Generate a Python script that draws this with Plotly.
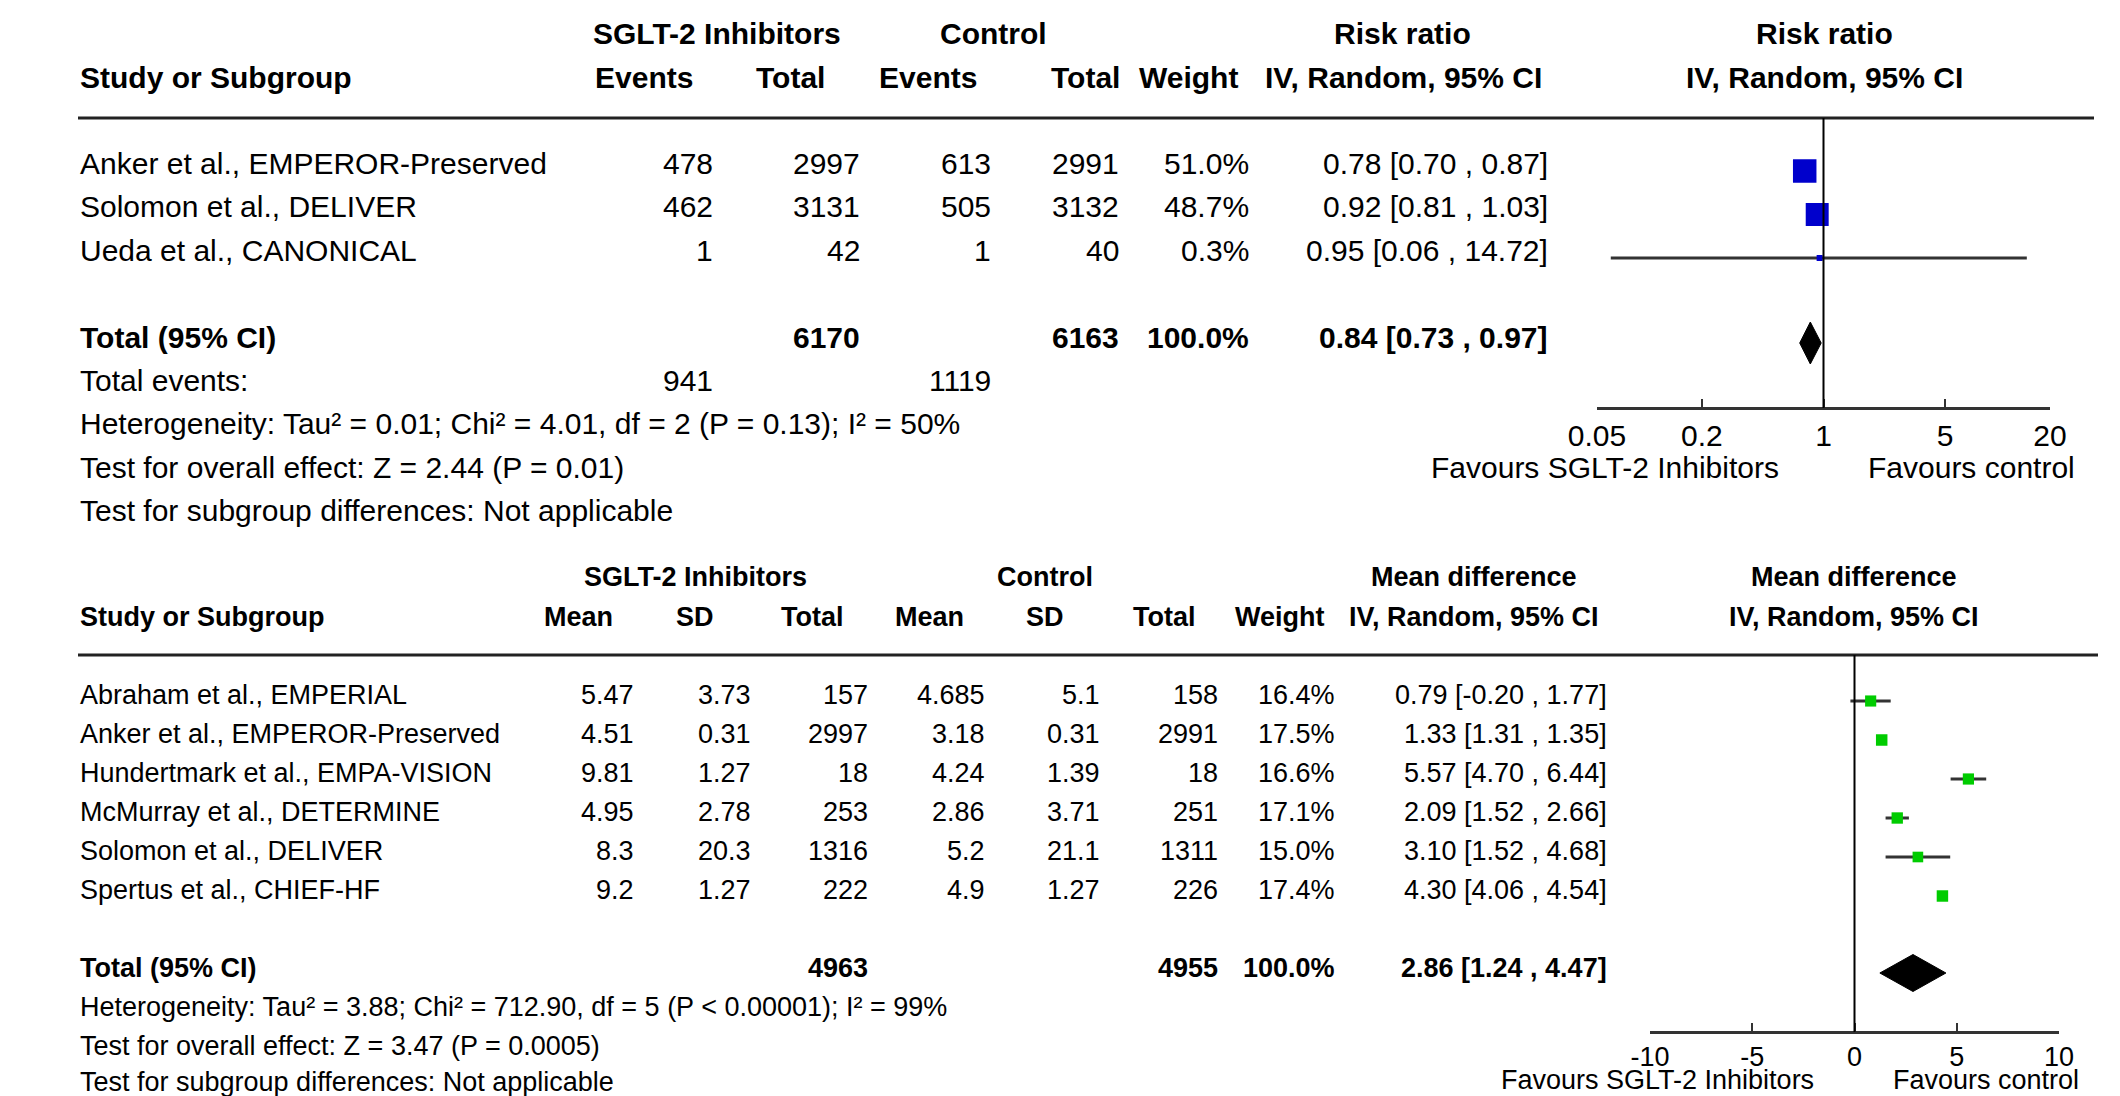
import math
import plotly.graph_objects as go

W, H = 2120, 1096
FONT = "Liberation Sans, Arial, Helvetica, sans-serif"

# ---------------- Top panel data (Risk ratio) ----------------
rr_studies = ["Anker et al., EMPEROR-Preserved", "Solomon et al., DELIVER", "Ueda et al., CANONICAL"]
rr_events_sglt = [478, 462, 1]
rr_total_sglt = [2997, 3131, 42]
rr_events_ctrl = [613, 505, 1]
rr_total_ctrl = [2991, 3132, 40]
rr_weight = [51.0, 48.7, 0.3]
rr_est = [0.78, 0.92, 0.95]
rr_lo = [0.70, 0.81, 0.06]
rr_hi = [0.87, 1.03, 14.72]
rr_pooled = [0.84, 0.73, 0.97]          # estimate, lower, upper
rr_sum_totals = [6170, 6163]
rr_sum_events = [941, 1119]
rr_ticks = [0.05, 0.2, 1, 5, 20]
rr_notes = [
    "Heterogeneity: Tau² = 0.01; Chi² = 4.01, df = 2 (P = 0.13); I² = 50%",
    "Test for overall effect: Z = 2.44 (P = 0.01)",
    "Test for subgroup differences: Not applicable",
]

# ---------------- Bottom panel data (Mean difference) ----------------
md_studies = ["Abraham et al., EMPERIAL", "Anker et al., EMPEROR-Preserved",
              "Hundertmark et al., EMPA-VISION", "McMurray et al., DETERMINE",
              "Solomon et al., DELIVER", "Spertus et al., CHIEF-HF"]
md_mean_sglt = [5.47, 4.51, 9.81, 4.95, 8.3, 9.2]
md_sd_sglt = [3.73, 0.31, 1.27, 2.78, 20.3, 1.27]
md_total_sglt = [157, 2997, 18, 253, 1316, 222]
md_mean_ctrl = [4.685, 3.18, 4.24, 2.86, 5.2, 4.9]
md_sd_ctrl = [5.1, 0.31, 1.39, 3.71, 21.1, 1.27]
md_total_ctrl = [158, 2991, 18, 251, 1311, 226]
md_weight = [16.4, 17.5, 16.6, 17.1, 15.0, 17.4]
md_est = [0.79, 1.33, 5.57, 2.09, 3.10, 4.30]
md_lo = [-0.20, 1.31, 4.70, 1.52, 1.52, 4.06]
md_hi = [1.77, 1.35, 6.44, 2.66, 4.68, 4.54]
md_pooled = [2.86, 1.24, 4.47]
md_sum_totals = [4963, 4955]
md_ticks = [-10, -5, 0, 5, 10]
md_notes = [
    "Heterogeneity: Tau² = 3.88; Chi² = 712.90, df = 5 (P < 0.00001); I² = 99%",
    "Test for overall effect: Z = 3.47 (P = 0.0005)",
    "Test for subgroup differences: Not applicable",
]

fig = go.Figure()
ann = []


def txt(x, y, s, size, anchor="left", bold=False):
    if bold:
        s = "<b>" + s + "</b>"
    ann.append(dict(x=x, y=y, xref="x", yref="y", text=s, showarrow=False,
                    xanchor=anchor, yanchor="middle",
                    font=dict(family=FONT, size=size, color="black")))


def ci_text(e, lo, hi):
    return f"{e:.2f} [{lo:.2f} , {hi:.2f}]"


# ================= TOP PANEL LAYOUT =================
FS1 = 30
LEFT = 78
t_h1, t_h2, t_rule = 33, 77, 118
t_rows = [163, 206.5, 250]
t_total, t_events = 337, 380
t_notes = [423, 467, 510]
t_axis_y = 408
t_cols = dict(ev1=715, tot1=862, ev2=993, tot2=1121, w=1251, ci=1550)

txt(717, t_h1, "SGLT-2 Inhibitors", FS1, "center", True)
txt(993, t_h1, "Control", FS1, "center", True)
txt(1402, t_h1, "Risk ratio", FS1, "center", True)
txt(1824, t_h1, "Risk ratio", FS1, "center", True)
txt(LEFT, t_h2, "Study or Subgroup", FS1, "left", True)
for xc, s in [(644, "Events"), (790, "Total"), (928, "Events"), (1085, "Total"),
              (1188, "Weight"), (1403, "IV, Random, 95% CI"), (1824, "IV, Random, 95% CI")]:
    txt(xc, t_h2, s, FS1, "center", True)

for i, name in enumerate(rr_studies):
    y = t_rows[i]
    txt(LEFT, y, name, FS1)
    txt(t_cols["ev1"], y, str(rr_events_sglt[i]), FS1, "right")
    txt(t_cols["tot1"], y, str(rr_total_sglt[i]), FS1, "right")
    txt(t_cols["ev2"], y, str(rr_events_ctrl[i]), FS1, "right")
    txt(t_cols["tot2"], y, str(rr_total_ctrl[i]), FS1, "right")
    txt(t_cols["w"], y, f"{rr_weight[i]:.1f}%", FS1, "right")
    txt(t_cols["ci"], y, ci_text(rr_est[i], rr_lo[i], rr_hi[i]), FS1, "right")

txt(LEFT, t_total, "Total (95% CI)", FS1, "left", True)
txt(t_cols["tot1"], t_total, str(rr_sum_totals[0]), FS1, "right", True)
txt(t_cols["tot2"], t_total, str(rr_sum_totals[1]), FS1, "right", True)
txt(t_cols["w"], t_total, f"{sum(rr_weight):.1f}%", FS1, "right", True)
txt(t_cols["ci"], t_total, ci_text(*rr_pooled), FS1, "right", True)
txt(LEFT, t_events, "Total events:", FS1)
txt(t_cols["ev1"], t_events, str(rr_sum_events[0]), FS1, "right")
txt(t_cols["ev2"], t_events, str(rr_sum_events[1]), FS1, "right")
for y, s in zip(t_notes, rr_notes):
    txt(LEFT, y, s, FS1)
txt(1605, 467, "Favours SGLT-2 Inhibitors", FS1, "center")
txt(1971, 467, "Favours control", FS1, "center")

# top forest marks (x2 = log axis)
off1 = 8
ci_x, ci_y = [], []
for i in range(len(rr_est)):
    ci_x += [rr_lo[i], rr_hi[i], None]
    ci_y += [t_rows[i] + off1] * 2 + [None]
fig.add_trace(go.Scatter(x=ci_x, y=ci_y, xaxis="x2", yaxis="y", mode="lines",
                         line=dict(color="#333333", width=3), hoverinfo="skip"))
fig.add_trace(go.Scatter(x=rr_est, y=[r + off1 for r in t_rows], xaxis="x2", yaxis="y",
                         mode="markers",
                         marker=dict(symbol="square", color="#0000CC", opacity=1,
                                     size=[max(6, 23.5 * math.sqrt(w / 51.0)) for w in rr_weight],
                                     line=dict(width=0))))
dy = t_total + 6
fig.add_trace(go.Scatter(x=[rr_pooled[1], rr_pooled[0], rr_pooled[2], rr_pooled[0], rr_pooled[1]],
                         y=[dy, dy - 21, dy, dy + 21, dy], xaxis="x2", yaxis="y",
                         mode="lines", fill="toself", fillcolor="black",
                         line=dict(color="black", width=1), hoverinfo="skip"))

# ================= BOTTOM PANEL LAYOUT =================
FS2 = 27
b_h1, b_h2, b_rule = 577, 617, 655
b_rows = [695, 734, 773, 812, 851, 890]
b_total = 968
b_notes = [1007, 1046, 1082]
b_axis_y = 1032
b_cols = dict(m1=636, sd1=753, tot1=870, m2=987, sd2=1102, tot2=1220, w=1337, ci=1609)

txt(695, b_h1, "SGLT-2 Inhibitors", FS2, "center", True)
txt(1045, b_h1, "Control", FS2, "center", True)
txt(1474, b_h1, "Mean difference", FS2, "center", True)
txt(1854, b_h1, "Mean difference", FS2, "center", True)
txt(LEFT, b_h2, "Study or Subgroup", FS2, "left", True)
for xc, s in [(578, "Mean"), (695, "SD"), (812, "Total"), (929, "Mean"), (1045, "SD"),
              (1164, "Total"), (1280, "Weight"), (1474, "IV, Random, 95% CI"),
              (1854, "IV, Random, 95% CI")]:
    txt(xc, b_h2, s, FS2, "center", True)

for i, name in enumerate(md_studies):
    y = b_rows[i]
    txt(LEFT, y, name, FS2)
    txt(b_cols["m1"], y, f"{md_mean_sglt[i]:g}", FS2, "right")
    txt(b_cols["sd1"], y, f"{md_sd_sglt[i]:g}", FS2, "right")
    txt(b_cols["tot1"], y, str(md_total_sglt[i]), FS2, "right")
    txt(b_cols["m2"], y, f"{md_mean_ctrl[i]:g}", FS2, "right")
    txt(b_cols["sd2"], y, f"{md_sd_ctrl[i]:g}", FS2, "right")
    txt(b_cols["tot2"], y, str(md_total_ctrl[i]), FS2, "right")
    txt(b_cols["w"], y, f"{md_weight[i]:.1f}%", FS2, "right")
    txt(b_cols["ci"], y, ci_text(md_est[i], md_lo[i], md_hi[i]), FS2, "right")

txt(LEFT, b_total, "Total (95% CI)", FS2, "left", True)
txt(b_cols["tot1"], b_total, str(md_sum_totals[0]), FS2, "right", True)
txt(b_cols["tot2"], b_total, str(md_sum_totals[1]), FS2, "right", True)
txt(b_cols["w"], b_total, "100.0%", FS2, "right", True)
txt(b_cols["ci"], b_total, ci_text(*md_pooled), FS2, "right", True)
for y, s in zip(b_notes, md_notes):
    txt(LEFT, y, s, FS2)
txt(1657, 1080, "Favours SGLT-2 Inhibitors", FS2, "center")
txt(1986, 1080, "Favours control", FS2, "center")

off2 = 6
ci_x, ci_y = [], []
for i in range(len(md_est)):
    ci_x += [md_lo[i], md_hi[i], None]
    ci_y += [b_rows[i] + off2] * 2 + [None]
fig.add_trace(go.Scatter(x=ci_x, y=ci_y, xaxis="x3", yaxis="y", mode="lines",
                         line=dict(color="#333333", width=3), hoverinfo="skip"))
fig.add_trace(go.Scatter(x=md_est, y=[r + off2 for r in b_rows], xaxis="x3", yaxis="y",
                         mode="markers",
                         marker=dict(symbol="square", color="#00CC00", opacity=1,
                                     size=[11.5 * math.sqrt(w / 17.5) for w in md_weight],
                                     line=dict(width=0))))
dy = b_total + 5
fig.add_trace(go.Scatter(x=[md_pooled[1], md_pooled[0], md_pooled[2], md_pooled[0], md_pooled[1]],
                         y=[dy, dy - 18.5, dy, dy + 18.5, dy], xaxis="x3", yaxis="y",
                         mode="lines", fill="toself", fillcolor="black",
                         line=dict(color="black", width=1), hoverinfo="skip"))

# ================= shapes =================
shapes = [
    dict(type="line", xref="x", yref="y", x0=LEFT, x1=2094, y0=t_rule, y1=t_rule,
         line=dict(color="#222222", width=3)),
    dict(type="line", xref="x2", yref="y", x0=1, x1=1, y0=t_rule, y1=t_axis_y,
         line=dict(color="black", width=2)),
    dict(type="line", xref="x", yref="y", x0=LEFT, x1=2098, y0=b_rule, y1=b_rule,
         line=dict(color="#222222", width=3)),
    dict(type="line", xref="x3", yref="y", x0=0, x1=0, y0=b_rule, y1=b_axis_y,
         line=dict(color="black", width=2)),
]

axis_common = dict(showgrid=False, zeroline=False, showline=True, linecolor="#333333",
                   linewidth=2.5, ticks="inside", ticklen=8, tickwidth=2,
                   tickcolor="#333333", anchor="free", side="bottom", fixedrange=True,
                   automargin=False)

fig.update_layout(
    template="none",
    width=W, height=H, margin=dict(l=0, r=0, t=0, b=0, pad=0, autoexpand=False),
    paper_bgcolor="white", plot_bgcolor="rgba(0,0,0,0)", showlegend=False,
    xaxis=dict(range=[0, W], domain=[0, 1], visible=False, fixedrange=True, automargin=False),
    yaxis=dict(range=[H, 0], domain=[0, 1], visible=False, fixedrange=True, automargin=False),
    xaxis2=dict(type="log", range=[math.log10(rr_ticks[0]), math.log10(rr_ticks[-1])],
                domain=[1597 / W, 2050 / W], position=1 - t_axis_y / H,
                tickmode="array", tickvals=rr_ticks, ticktext=[f"{t:g}" for t in rr_ticks],
                tickfont=dict(family=FONT, size=FS1, color="black"), **axis_common),
    xaxis3=dict(range=[md_ticks[0], md_ticks[-1]],
                domain=[1650 / W, 2059 / W], position=1 - b_axis_y / H,
                tickmode="array", tickvals=md_ticks, ticktext=[str(t) for t in md_ticks],
                tickfont=dict(family=FONT, size=FS2, color="black"), **axis_common),
    annotations=ann, shapes=shapes,
)

fig.write_html("out.html", config={"displayModeBar": False},
               post_script="document.body.style.margin='0';document.body.style.overflow='hidden';")
